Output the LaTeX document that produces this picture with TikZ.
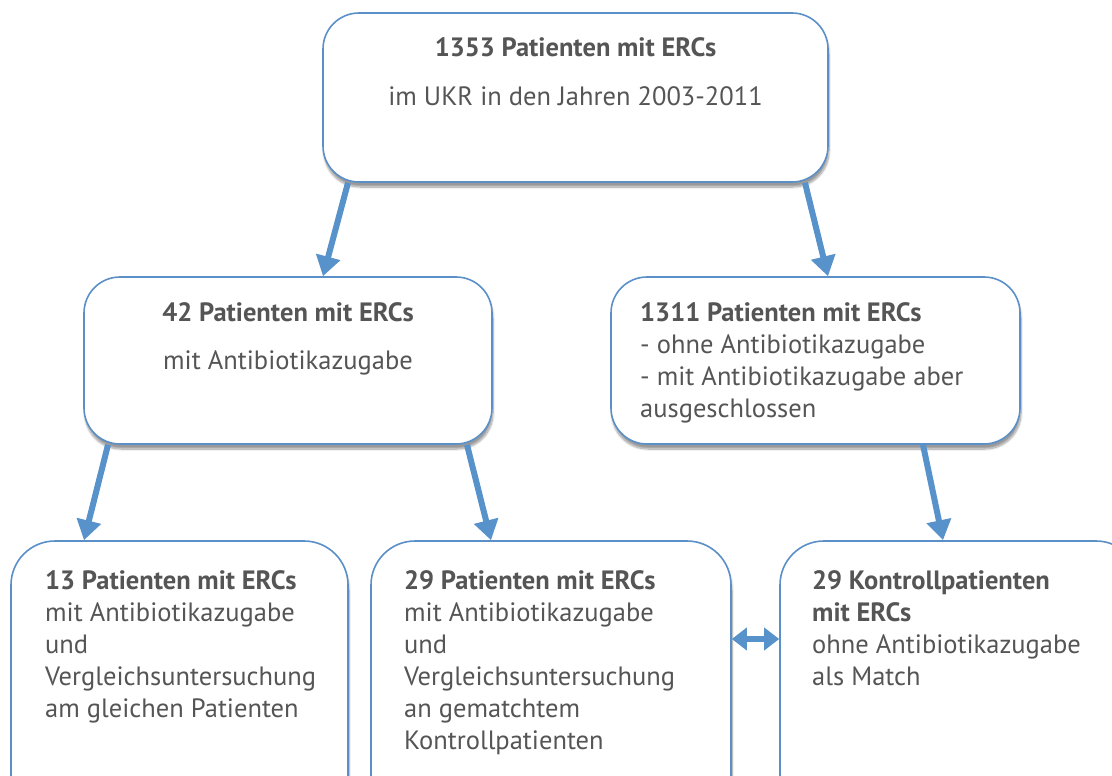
\documentclass[tikz,border=0pt]{standalone}
\usepackage{fontspec}
\setmainfont{PT Sans}
\usepackage{tikz}
\usetikzlibrary{
  arrows.meta,   % Triangle 箭头
  shadows.blur   % 方框的柔和阴影
}
\definecolor{rahmenblau}{RGB}{91,143,200}
\definecolor{pfeilblau}{RGB}{88,146,203}
\definecolor{schriftgrau}{RGB}{85,85,85}

\tikzset{
  kasten/.style={draw=rahmenblau, line width=1.6pt, fill=white,
    rounded corners=36pt, inner sep=0pt,
    blur shadow={shadow xshift=1pt, shadow yshift=-5pt,
      shadow blur steps=10, shadow opacity=40}},
  pfeil/.style={-{Triangle[length=20pt,width=24pt]}, line width=6pt, pfeilblau},
  doppelpfeil/.style={{Triangle[length=15pt,width=22pt]}-{Triangle[length=15pt,width=22pt]},
    line width=6pt, pfeilblau},
  kastentext/.style={inner sep=0pt, align=left, text=schriftgrau,
    font=\fontsize{26.5}{32}\selectfont}
}

\begin{document}
\begin{tikzpicture}[x=1pt, y=-1pt]

  % =========== 画布范围 ===========
  \useasboundingbox (0,0) rectangle (1112,776);

  % =========== 方框 ===========
  % 1. 顶部：全部患者
  \node[kasten, minimum width=505pt, minimum height=169pt] (gesamt) at (575.5,97.5) {};
  % 2. 中间两层
  \node[kasten, minimum width=408pt, minimum height=167pt] (mitab)  at (288,360.5) {};
  \node[kasten, minimum width=409pt, minimum height=167pt] (ohneab) at (815.5,360.5) {};
  % 3. 底层三个方框（下边缘超出画布）
  \node[kasten, rounded corners=44pt, minimum width=337pt, minimum height=280pt] (gleich)    at (179.5,681) {};
  \node[kasten, rounded corners=44pt, minimum width=360pt, minimum height=280pt] (gematcht)  at (551,681) {};
  \node[kasten, rounded corners=44pt, minimum width=360pt, minimum height=280pt] (kontrolle) at (960,681) {};

  % =========== 文字 ===========
  % 多行节点的 base 为最后一行基线
  \node[kastentext, anchor=base] (t1a) at (575.5,57) {\bfseries 1353 Patienten mit ERCs};
  \node[kastentext, anchor=base] (t1b) at (575.5,106) {im UKR in den Jahren 2003-2011};

  \node[kastentext, anchor=base] (t2a) at (288,321) {\bfseries 42 Patienten mit ERCs};
  \node[kastentext, anchor=base] (t2b) at (288,369) {mit Antibiotikazugabe};

  \node[kastentext, anchor=base west] (t3) at (640,417)
    {\textbf{1311 Patienten mit ERCs}\\- ohne Antibiotikazugabe\\
     - mit Antibiotikazugabe aber\\ausgeschlossen};

  \node[kastentext, anchor=base west] (t4) at (45,717)
    {\textbf{13 Patienten mit ERCs}\\mit Antibiotikazugabe\\und\\
     Vergleichsuntersuchung\\am gleichen Patienten};

  \node[kastentext, anchor=base west] (t5) at (404,749)
    {\textbf{29 Patienten mit ERCs}\\mit Antibiotikazugabe\\und\\
     Vergleichsuntersuchung\\an gematchtem\\Kontrollpatienten};

  \node[kastentext, anchor=base west] (t6) at (812,685)
    {\textbf{29 Kontrollpatienten}\\\textbf{mit ERCs}\\ohne Antibiotikazugabe\\als Match};

  % =========== 箭头 ===========
  \draw[pfeil] ([xshift=-227.5pt]gesamt.south) -- ([xshift=35pt]mitab.north);
  \draw[pfeil] ([xshift=229.5pt]gesamt.south)  -- ([xshift=12.5pt]ohneab.north);
  \draw[pfeil] ([xshift=-180pt]mitab.south)    -- ([xshift=-95.5pt]gleich.north);
  \draw[pfeil] ([xshift=179pt]mitab.south)     -- ([xshift=-60pt]gematcht.north);
  \draw[pfeil] ([xshift=107.5pt]ohneab.south)  -- ([xshift=-17pt]kontrolle.north);

  % 匹配关系（双向箭头）
  \coordinate (matchhoehe) at (755,639);
  \draw[doppelpfeil] (matchhoehe -| gematcht.east) -- (matchhoehe -| kontrolle.west);

\end{tikzpicture}
\end{document}
